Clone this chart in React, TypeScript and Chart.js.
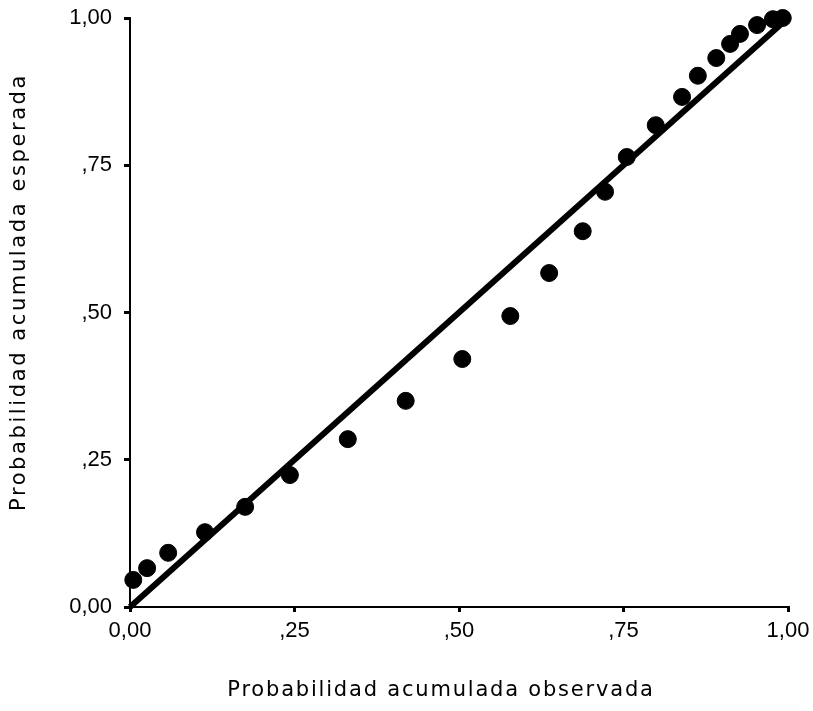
import React, { useEffect, useRef } from "react";
import { Chart, registerables } from "chart.js";

Chart.register(...registerables);

const observed = [0.005, 0.026, 0.058, 0.114, 0.175, 0.243, 0.331, 0.419, 0.505, 0.578, 0.637, 0.688, 0.722, 0.755, 0.799, 0.839, 0.863, 0.891, 0.912, 0.927, 0.953, 0.977, 0.992];
const expected = [0.046, 0.066, 0.092, 0.127, 0.170, 0.224, 0.285, 0.350, 0.421, 0.494, 0.567, 0.638, 0.705, 0.764, 0.818, 0.866, 0.902, 0.932, 0.956, 0.973, 0.988, 0.998, 1.0];
const refLineX = [0, 1];
const refLineY = [0, 1];
const tickValues = [0, 0.25, 0.5, 0.75, 1];
const tickLabels = ["0,00", ",25", ",50", ",75", "1,00"];
const xTitle = "Probabilidad acumulada observada";
const yTitle = "Probabilidad acumulada esperada";

const fmt = (v: number) => {
  const i = tickValues.findIndex((t) => Math.abs(t - v) < 1e-6);
  return i >= 0 ? tickLabels[i] : "";
};

const axisTitlePlugin = {
  id: "axisTitlePlugin",
  afterDraw(chart: any) {
    const ctx = chart.ctx as CanvasRenderingContext2D;
    ctx.save();
    ctx.fillStyle = "#000";
    ctx.font = "21px 'DejaVu Sans', sans-serif";
    (ctx as any).letterSpacing = "1.8px";
    ctx.textAlign = "center";
    ctx.textBaseline = "middle";
    ctx.fillText(xTitle, 441, 691);
    (ctx as any).letterSpacing = "2.6px";
    ctx.translate(20, 292);
    ctx.rotate(-Math.PI / 2);
    ctx.fillText(yTitle, 0, 0);
    ctx.restore();
  },
};

export default function App() {
  const ref = useRef<HTMLCanvasElement | null>(null);
  useEffect(() => {
    if (!ref.current) return;
    const tickFont = { family: "'Liberation Sans', Arial, sans-serif", size: 22 };
    const chart = new Chart(ref.current, {
      type: "scatter",
      data: {
        datasets: [
          {
            type: "line",
            data: refLineX.map((x, i) => ({ x, y: refLineY[i] })),
            borderColor: "#000",
            borderWidth: 6,
            pointRadius: 0,
            fill: false,
            clip: false as any,
          },
          {
            data: observed.map((x, i) => ({ x, y: expected[i] })),
            backgroundColor: "#000",
            borderColor: "#000",
            pointRadius: 8.5,
            pointHoverRadius: 8.5,
            clip: false as any,
          },
        ],
      },
      options: {
        animation: false,
        responsive: false,
        events: [],
        layout: { padding: { left: 0, right: 25, top: 18, bottom: 0 } },
        plugins: { legend: { display: false }, tooltip: { enabled: false } },
        scales: {
          x: {
            type: "linear",
            min: 0,
            max: 1,
            afterBuildTicks: (s: any) => {
              s.ticks = tickValues.map((v) => ({ value: v }));
            },
            afterFit: (s: any) => {
              s.height = 104;
              s.paddingLeft = 0;
              s.paddingRight = 0;
            },
            ticks: { callback: (v: any) => fmt(Number(v)), color: "#000", font: tickFont, padding: 6, maxRotation: 0, autoSkip: false },
            grid: { drawOnChartArea: false, color: "#000", tickLength: 5, lineWidth: 3 },
            border: { color: "#000", width: 2 },
          },
          y: {
            type: "linear",
            min: 0,
            max: 1,
            afterBuildTicks: (s: any) => {
              s.ticks = tickValues.map((v) => ({ value: v }));
            },
            afterFit: (s: any) => {
              s.width = 130;
              s.paddingTop = 0;
              s.paddingBottom = 0;
            },
            ticks: { callback: (v: any) => fmt(Number(v)), color: "#000", font: tickFont, padding: 12, autoSkip: false },
            grid: { drawOnChartArea: false, color: "#000", tickLength: 6, lineWidth: 3 },
            border: { color: "#000", width: 2 },
          },
        },
      },
      plugins: [axisTitlePlugin],
    });
    return () => chart.destroy();
  }, []);
  return (
    <div style={{ position: "absolute", left: 0, top: 0, width: 813, height: 711, background: "#fff" }}>
      <canvas ref={ref} width={813} height={711} style={{ width: 813, height: 711 }} />
    </div>
  );
}
